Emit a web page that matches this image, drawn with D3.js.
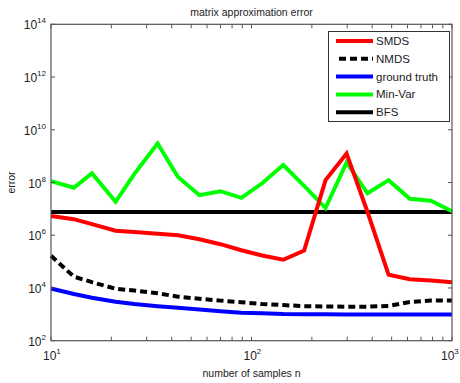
<!DOCTYPE html>
<html>
<head>
<meta charset="utf-8"/>
<script src="https://d3js.org/d3.v7.min.js"></script>
<style>
  body { margin: 0; background: #fff; }
  svg { font-family: "Liberation Sans", Arial, sans-serif; }
  .lbl { font-size: 11px; fill: #222; }
</style>
</head>
<body>
<div id="chart"></div>
<script>
// number of samples (rounded logspace 10..1000)
var samples = [10, 13, 16, 21, 26, 34, 43, 55, 70, 89, 113, 144, 183, 234, 298, 379, 483, 616, 785, 1000];

// errors, as log10 values
var smds   = [6.73, 6.61, 6.42, 6.17, 6.12, 6.06, 6.00, 5.85, 5.66, 5.43, 5.23, 5.07, 5.42, 8.09, 9.10, 6.88, 4.50, 4.33, 4.28, 4.22];
var nmds   = [5.22, 4.43, 4.22, 3.97, 3.90, 3.80, 3.67, 3.59, 3.52, 3.46, 3.39, 3.35, 3.31, 3.30, 3.29, 3.29, 3.32, 3.47, 3.52, 3.52];
var truth  = [3.98, 3.77, 3.63, 3.48, 3.39, 3.31, 3.25, 3.18, 3.12, 3.06, 3.04, 3.01, 3.00, 3.00, 2.99, 2.99, 2.99, 2.99, 2.99, 2.99];
var minvar = [8.05, 7.80, 8.35, 7.27, 8.32, 9.48, 8.21, 7.52, 7.67, 7.42, 7.97, 8.66, 7.87, 7.03, 8.76, 7.59, 8.09, 7.38, 7.31, 6.91];
var bfs    = samples.map(function() { return 6.88; });

var seriesNames  = ["SMDS", "NMDS", "ground truth", "Min-Var", "BFS"];
var seriesColors = ["#ff0000", "#000000", "#0000ff", "#00ff00", "#000000"];

var xTicks = [10, 100, 1000];
var yTickExps = [2, 4, 6, 8, 10, 12, 14];

var W = 460, H = 383;
var m = {left: 51, right: 8, top: 24.3, bottom: 42.3};

var svg = d3.select("#chart").append("svg")
    .attr("width", W).attr("height", H);

var x = d3.scaleLog().domain([10, 1000]).range([m.left, W - m.right]);
var y = d3.scaleLog().domain([1e2, 1e14]).range([H - m.bottom, m.top]);

var series = [smds, nmds, truth, minvar, bfs];
var dashes = [null, "7,4", null, null, null];

// plot lines (red drawn last so it sits over green/black)
var line = d3.line()
    .x(function(d, i) { return x(samples[i]); })
    .y(function(d) { return y(Math.pow(10, d)); });

var drawOrder = [4, 3, 2, 1, 0];
drawOrder.forEach(function(k) {
  svg.append("path")
      .datum(series[k])
      .attr("d", line)
      .attr("fill", "none")
      .attr("stroke", seriesColors[k])
      .attr("stroke-width", 4)
      .attr("stroke-dasharray", dashes[k]);
});

// axes box
var axisColor = "#555";
var g = svg.append("g");
g.append("rect")
    .attr("x", m.left).attr("y", m.top)
    .attr("width", W - m.left - m.right).attr("height", H - m.top - m.bottom)
    .attr("fill", "none").attr("stroke", axisColor).attr("stroke-width", 1.2);

// x ticks, major and minor, top and bottom, pointing inward
var xAll = [];
for (var dec = 10; dec < 1000; dec *= 10)
  for (var j = 1; j < 10; j++) xAll.push(dec * j);
xAll.push(1000);
xAll.forEach(function(v) {
  var px = x(v);
  g.append("line").attr("x1", px).attr("x2", px)
      .attr("y1", H - m.bottom).attr("y2", H - m.bottom - 4)
      .attr("stroke", axisColor);
  g.append("line").attr("x1", px).attr("x2", px)
      .attr("y1", m.top).attr("y2", m.top + 4)
      .attr("stroke", axisColor);
});

yTickExps.forEach(function(e) {
  var py = y(Math.pow(10, e));
  g.append("line").attr("x1", m.left).attr("x2", m.left + 4)
      .attr("y1", py).attr("y2", py).attr("stroke", axisColor);
  g.append("line").attr("x1", W - m.right).attr("x2", W - m.right - 4)
      .attr("y1", py).attr("y2", py).attr("stroke", axisColor);
  var t = svg.append("text").attr("class", "lbl")
      .attr("x", m.left - 5).attr("y", py + 5)
      .attr("text-anchor", "end").style("font-size", "12px");
  t.append("tspan").text("10");
  t.append("tspan").attr("dy", -6).style("font-size", "8px").text(e);
});

xTicks.forEach(function(v, i) {
  var px = x(v);
  // keep the last label inside the window
  var x0 = Math.min(px - 8, W - 19);
  var t = svg.append("text").attr("class", "lbl")
      .attr("x", x0).attr("y", H - m.bottom + 19)
      .attr("text-anchor", "start").style("font-size", "12px");
  t.append("tspan").text("10");
  t.append("tspan").attr("dy", -6).style("font-size", "8px").text(Math.round(Math.log10(v)));
});

// titles
svg.append("text").attr("class", "lbl")
    .attr("x", (m.left + W - m.right) / 2).attr("y", 16)
    .attr("text-anchor", "middle").style("font-size", "10.5px")
    .text("matrix approximation error");
svg.append("text").attr("class", "lbl")
    .attr("x", (m.left + W - m.right) / 2).attr("y", 377)
    .attr("text-anchor", "middle").style("font-size", "10.5px")
    .text("number of samples n");
svg.append("text").attr("class", "lbl")
    .attr("transform", "translate(15," + ((m.top + H - m.bottom) / 2) + ") rotate(-90)")
    .attr("text-anchor", "middle").style("font-size", "10.5px")
    .text("error");

// legend
var lg = svg.append("g");
lg.append("rect")
    .attr("x", 328.5).attr("y", 31.5).attr("width", 121).attr("height", 90)
    .attr("fill", "#fff").attr("stroke", "#333").attr("stroke-width", 1);
seriesNames.forEach(function(name, k) {
  var ly = 41 + k * 17.8;
  lg.append("line")
      .attr("x1", k === 1 ? 339 : 336).attr("x2", 373)
      .attr("y1", ly).attr("y2", ly)
      .attr("stroke", seriesColors[k]).attr("stroke-width", 4)
      .attr("stroke-dasharray", dashes[k]);
  lg.append("text").attr("class", "lbl")
      .attr("x", 376).attr("y", ly + 4)
      .style("font-size", "11.5px")
      .text(name);
});
</script>
</body>
</html>
